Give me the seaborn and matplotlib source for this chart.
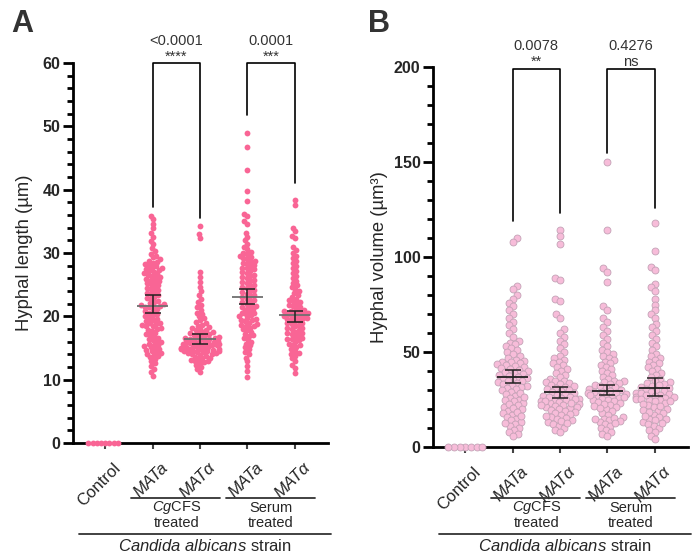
import pandas as pd
import seaborn as sns
import matplotlib.pyplot as plt
from matplotlib.ticker import MultipleLocator
from matplotlib.transforms import ScaledTranslation, blended_transform_factory

sns.set_style('ticks')
plt.rcParams['font.family'] = ['Liberation Sans', 'DejaVu Sans']
plt.rcParams['mathtext.fontset'] = 'custom'
plt.rcParams['mathtext.rm'] = 'Liberation Sans'
plt.rcParams['mathtext.it'] = 'Liberation Sans:italic'
plt.rcParams['mathtext.bf'] = 'Liberation Sans:bold'

groups = ['Control', 'CgCFS MATa', 'CgCFS MATα', 'Serum MATa', 'Serum MATα']
tick_labels = ['Control', 'MATa', 'MATα', 'MATa', 'MATα']

# hyphal length (um)
length_control = [0, 0, 0, 0, 0, 0, 0, 0]
length_cg_a = [35.9, 35.3, 34.6, 33.9, 33.1, 32.5, 31.9, 31.4, 30.8, 30.3, 29.9, 29.6, 29.3, 29.0,
               28.8, 28.6, 28.4, 28.2, 28.0, 27.9, 27.7, 27.6, 27.4, 27.3, 27.1, 27.0, 26.8, 26.7,
               26.5, 26.4, 26.2, 26.1, 25.9, 25.8, 25.6, 25.5, 25.3, 25.1, 24.9, 24.7, 24.5, 24.3, 24.1,
               23.9, 23.7, 23.5, 23.3, 23.1, 22.9, 22.7, 22.5, 22.3, 22.1, 21.9, 21.8, 21.7, 21.6,
               21.5, 21.4, 21.2, 21.0, 20.8, 20.6, 20.4, 20.2, 20.0, 19.8, 19.6, 19.4, 19.2, 19.0,
               18.8, 18.6, 18.4, 18.2, 18.0, 17.7, 17.4, 17.1, 16.8, 16.5, 16.2, 15.9, 15.7, 15.5,
               15.3, 15.1, 14.9, 14.7, 14.5, 14.3, 14.1, 13.9, 13.6, 13.3, 13.0, 12.6, 12.2, 11.7,
               11.2, 10.6, 18.9, 18.5, 17.9, 17.2, 16.6, 16.0, 15.4, 14.8, 14.2, 13.7]
length_cg_alpha = [34.2, 33.0, 32.4, 27.0, 26.2, 25.4, 24.7, 24.0, 23.4, 22.8, 22.3, 21.8, 21.4,
                   21.0, 20.6, 20.3, 20.0, 19.7, 19.4, 19.1, 18.9, 18.7, 18.5, 18.3, 18.1, 17.9,
                   17.8, 17.6, 17.5, 17.3, 17.2, 17.1, 17.0, 16.9, 16.8, 16.7, 16.6, 16.5, 16.5,
                   16.4, 16.3, 16.2, 16.1, 16.0, 15.9, 15.8, 15.8, 15.7, 15.6, 15.5, 15.5, 15.4,
                   15.3, 15.2, 15.2, 15.1, 15.0, 14.9, 14.9, 14.8, 14.7, 14.6, 14.6, 14.5, 14.4,
                   14.3, 14.2, 14.1, 14.0, 13.9, 13.8, 13.6, 13.4, 13.2, 13.0, 12.8, 12.6, 12.3,
                   12.0, 11.7, 11.2, 15.0, 14.8, 14.5, 14.2, 15.6, 16.0, 16.6, 17.4, 18.0, 13.5,
                   13.1, 12.9]
length_se_a = [49.0, 46.8, 43.1, 39.8, 38.2, 36.2, 35.8, 35.0, 34.6, 33.2, 32.6, 32.0, 31.5, 31.0,
               30.6, 30.2, 30.0, 29.8, 29.6, 29.4, 29.2, 29.0, 28.8, 28.6, 28.5, 28.3, 28.1, 27.9,
               27.7, 27.6, 27.4, 27.2, 27.0, 26.8, 26.6, 26.4, 26.2, 26.0, 25.8, 25.6, 25.4, 25.2,
               25.0, 24.8, 24.6, 24.4, 24.2, 24.0, 23.8, 23.6, 23.4, 23.2, 23.0, 22.8, 22.6, 22.4,
               22.2, 22.0, 21.8, 21.6, 21.4, 21.2, 21.0, 20.8, 20.6, 20.4, 20.2, 20.0, 19.8, 19.6,
               19.4, 19.2, 19.0, 18.8, 18.6, 18.4, 18.2, 18.0, 17.8, 17.5, 17.2, 16.9, 16.6, 16.3,
               16.0, 15.7, 15.4, 15.1, 14.8, 14.4, 14.0, 13.5, 12.9, 12.2, 11.3, 10.5,
               21.5, 20.5, 19.5, 18.5, 17.0]
length_se_alpha = [38.4, 37.6, 34.0, 33.4, 32.7, 32.3, 31.0, 30.5, 30.0, 29.6, 29.2, 28.8, 28.4,
                   28.0, 27.6, 27.2, 26.8, 26.4, 26.0, 25.6, 25.2, 24.9, 24.6, 24.3, 24.0, 23.7,
                   23.4, 23.1, 22.8, 22.6, 22.4, 22.2, 22.0, 21.8, 21.6, 21.4, 21.2, 21.0, 20.9,
                   20.8, 20.7, 20.6, 20.5, 20.4, 20.3, 20.2, 20.1, 20.0, 19.9, 19.8, 19.7, 19.6,
                   19.5, 19.4, 19.2, 19.0, 18.8, 18.6, 18.4, 18.2, 18.0, 17.8, 17.6, 17.4, 17.2,
                   17.0, 16.8, 16.6, 16.4, 16.2, 16.0, 15.7, 15.4, 15.1, 14.8, 14.5, 14.2, 13.8,
                   13.4, 12.9, 12.3, 11.8, 11.0, 18.9, 18.1, 17.3, 16.5, 15.5, 14.0]

# hyphal volume (um3)
volume_control = [0, 0, 0, 0, 0, 0, 0]
volume_cg_a = [110, 108, 85, 83, 80, 78, 76, 74, 72, 70, 68, 66, 64, 62, 60, 58, 56, 55, 54, 53,
               52, 51, 50, 49, 48, 47, 46, 45.5, 45, 44.5, 44, 43.5, 43, 42.5, 42, 41.5, 41, 40.5,
               40, 39.5, 39, 38.5, 38, 37.5, 37, 36.5, 36, 35.5, 35, 34.5, 34, 33.5, 33, 32.5, 32,
               31.5, 31, 30.5, 30, 29, 28, 27, 26, 25, 24, 23, 22, 21, 20, 19, 18, 17, 16, 15, 14,
               13, 12, 11, 10, 9, 8, 7, 6, 28.5, 26.5, 24.5, 22.5, 20.5, 18.5, 16.5, 12.5]
volume_cg_alpha = [114, 111, 107, 89, 88, 78, 77, 70, 68, 62, 60, 58, 56, 54, 52, 50, 48, 47, 46,
                   45, 44, 43, 42, 41, 40, 39, 38, 37, 36, 35, 34.5, 34, 33.5, 33, 32.5, 32, 31.5,
                   31, 30.5, 30, 29.5, 29, 28.5, 28, 27.5, 27, 26.5, 26, 25.5, 25, 24.5, 24, 23.5,
                   23, 22.5, 22, 21.5, 21, 20.5, 20, 19.5, 19, 18, 17, 16, 15, 14, 13, 12, 11, 10,
                   9, 8, 26.2, 25.2, 24.2, 23.2, 22.2, 21.2, 18.5, 17.5, 16.5, 15.5, 13.5, 12.5]
volume_se_a = [150, 114, 94, 92, 87, 74, 72, 68, 66, 63, 61, 59, 57, 55, 53, 51, 50, 49, 48, 47,
               46, 45, 44, 43, 42, 41, 40, 39, 38, 37, 36, 35, 34.5, 34, 33.5, 33, 32.5, 32, 31.5,
               31, 30.5, 30, 29.5, 29, 28.5, 28, 27.5, 27, 26.5, 26, 25.5, 25, 24.5, 24, 23, 22,
               21, 20, 19, 18, 17, 16, 15, 14, 13, 12, 11, 10, 9, 8, 7, 6, 29.2, 28.2, 27.2, 26.2,
               23.5, 22.5, 21.5, 20.5, 15.5, 13.5, 14.5, 12.5]
volume_se_alpha = [118, 103, 95, 93, 86, 84, 82, 78, 75, 72, 70, 68, 65, 63, 61, 59, 57, 55, 53,
                   51, 49, 48, 47, 46, 45, 44, 43, 42, 41, 40, 39, 38, 37, 36, 35, 34, 33.5, 33,
                   32.5, 32, 31.5, 31, 30.5, 30, 29.5, 29, 28.5, 28, 27.5, 27, 26.5, 26, 25.5, 25,
                   24.5, 24, 23, 22, 21, 20, 19, 18, 17, 16, 15, 14, 13, 12, 11, 10, 9, 8, 6, 4,
                   28.2, 27.2, 26.2, 25.2, 24.2, 22.5, 21.5, 19.5, 18.5, 16.5, 14.5, 12.5]

# median with 95% CI
length_med = [21.6, 16.4, 23.0, 20.2]
length_lo = [20.6, 15.6, 21.9, 19.1]
length_hi = [23.3, 17.2, 24.3, 20.8]
volume_med = [37.0, 28.8, 29.6, 30.9]
volume_lo = [33.5, 26.0, 27.5, 27.0]
volume_hi = [40.4, 31.7, 32.4, 36.2]

length_p = ['<0.0001', '0.0001']
length_stars = ['****', '***']
volume_p = ['0.0078', '0.4276']
volume_stars = ['**', 'ns']


def make_df(cols):
    rows = []
    for g, vals in zip(groups, cols):
        for v in vals:
            rows.append((g, v))
    return pd.DataFrame(rows, columns=['group', 'value'])


df_len = make_df([length_control, length_cg_a, length_cg_alpha, length_se_a, length_se_alpha])
df_vol = make_df([volume_control, volume_cg_a, volume_cg_alpha, volume_se_a, volume_se_alpha])

fig = plt.figure(figsize=(7, 5.55), dpi=100)
axA = fig.add_axes([73 / 700, 1 - 443 / 555, 255 / 700, 380 / 555])
axB = fig.add_axes([433 / 700, 1 - 447 / 555, 255 / 700, 380 / 555])


def style_axis(ax, ymax, major, minor, ylabel):
    ax.set_xlim(-0.68, 4.7)
    ax.set_ylim(0, ymax)
    ax.yaxis.set_major_locator(MultipleLocator(major))
    ax.yaxis.set_minor_locator(MultipleLocator(minor))
    sns.despine(ax=ax)
    for s in ['left', 'bottom']:
        ax.spines[s].set_linewidth(2)
        ax.spines[s].set_color('black')
    ax.tick_params(axis='y', which='major', length=7, width=2, labelsize=11.5, pad=2, color='black')
    ax.tick_params(axis='y', which='minor', length=4, width=2, color='black')
    ax.tick_params(axis='x', length=4, width=1.5, color='#444444', labelsize=12)
    for t in ax.get_yticklabels():
        t.set_fontweight('bold')
    ax.set_xlabel('')
    ax.set_ylabel(ylabel, fontsize=13.3)
    ax.set_xticks(range(5))
    ax.set_xticklabels(tick_labels, rotation=45, ha='right', va='center', rotation_mode='anchor')
    off = ScaledTranslation(0.13, -0.12, fig.dpi_scale_trans)
    for i, t in enumerate(ax.get_xticklabels()):
        t.set_transform(t.get_transform() + off)
        if i > 0:
            t.set_fontstyle('italic')


def draw_stats(ax, med, lo, hi, linecolor):
    for i in range(4):
        x = i + 1
        ax.hlines(med[i], x - 0.33, x + 0.33, color=linecolor, lw=1.3, zorder=4)
        ax.errorbar(x, med[i], yerr=[[med[i] - lo[i]], [hi[i] - med[i]]], fmt='none',
                    ecolor='#222222', elinewidth=1.1, capsize=5.6, capthick=1.1, zorder=5)


def draw_brackets(ax, top, legs, pvals, stars, star_y, p_y):
    for k, (x1, x2) in enumerate([(1, 2), (3, 4)]):
        ax.plot([x1, x1, x2, x2], [legs[k][0], top, top, legs[k][1]], color='black', lw=1.2,
                clip_on=False, zorder=2)
        ax.text((x1 + x2) / 2, star_y, stars[k], ha='center', va='center', fontsize=10.5,
                color='#333333', clip_on=False)
        ax.text((x1 + x2) / 2, p_y, pvals[k], ha='center', va='center', fontsize=10.5,
                color='#333333', clip_on=False)


def draw_groups(ax):
    tr = blended_transform_factory(ax.transData, fig.transFigure)
    y1 = 1 - 498 / 555
    y2 = 1 - 534 / 555
    ax.plot([0.55, 2.42], [y1, y1], color='#333333', lw=1.3, transform=tr, clip_on=False)
    ax.plot([2.55, 4.42], [y1, y1], color='#333333', lw=1.3, transform=tr, clip_on=False)
    ax.plot([-0.55, 4.77], [y2, y2], color='#333333', lw=1.3, transform=tr, clip_on=False)
    ax.text(1.5, 1 - 508 / 555, r'$\mathit{Cg}$CFS', transform=tr, ha='center', va='center', fontsize=10.5)
    ax.text(1.5, 1 - 523 / 555, 'treated', transform=tr, ha='center', va='center', fontsize=10.5)
    ax.text(3.5, 1 - 508 / 555, 'Serum', transform=tr, ha='center', va='center', fontsize=10.5)
    ax.text(3.5, 1 - 523 / 555, 'treated', transform=tr, ha='center', va='center', fontsize=10.5)
    ax.text(2.1, 1 - 546 / 555, r'$\mathit{Candida\ albicans}$ strain', transform=tr,
            ha='center', va='center', fontsize=12)


# panel A
sns.swarmplot(data=df_len, x='group', y='value', order=groups, color='#f96595', size=2.9,
              linewidth=0, ax=axA)
swarm_a = list(axA.collections)
style_axis(axA, 60, 10, 2, 'Hyphal length (µm)')
axA.yaxis.set_label_coords(-0.155, 0.5)
draw_stats(axA, length_med, length_lo, length_hi, '#707070')
draw_brackets(axA, 60, [(37.3, 35.5), (51.8, 41.0)], length_p, length_stars, 60.95, 63.4)
draw_groups(axA)

# panel B
sns.swarmplot(data=df_vol, x='group', y='value', order=groups, color='#f7bcd9', size=3.3,
              edgecolor='#c4a2b6', linewidth=0.6, ax=axB)
swarm_b = list(axB.collections)
style_axis(axB, 200, 50, 10, 'Hyphal volume (µm³)')
axB.yaxis.set_label_coords(-0.175, 0.5)
draw_stats(axB, volume_med, volume_lo, volume_hi, '#222222')
draw_brackets(axB, 199, [(119, 123), (155, 126)], volume_p, volume_stars, 202.8, 211)
draw_groups(axB)

fig.text(22 / 700, 1 - 24 / 555, 'A', fontsize=22, fontweight='bold', color='#333333',
         ha='center', va='center')
fig.text(379 / 700, 1 - 24 / 555, 'B', fontsize=22, fontweight='bold', color='#333333',
         ha='center', va='center')

# lay the swarms out with small markers, then draw bigger overlapping dots
fig.canvas.draw()
for colls, size in [(swarm_a, 4.2), (swarm_b, 5.0)]:
    for c in colls:
        if 'draw' in c.__dict__:
            del c.draw
        c.set_sizes([size ** 2])
        c.set_clip_on(False)
        c.set_zorder(3)

fig.savefig('out.png', dpi=100, facecolor='white')
